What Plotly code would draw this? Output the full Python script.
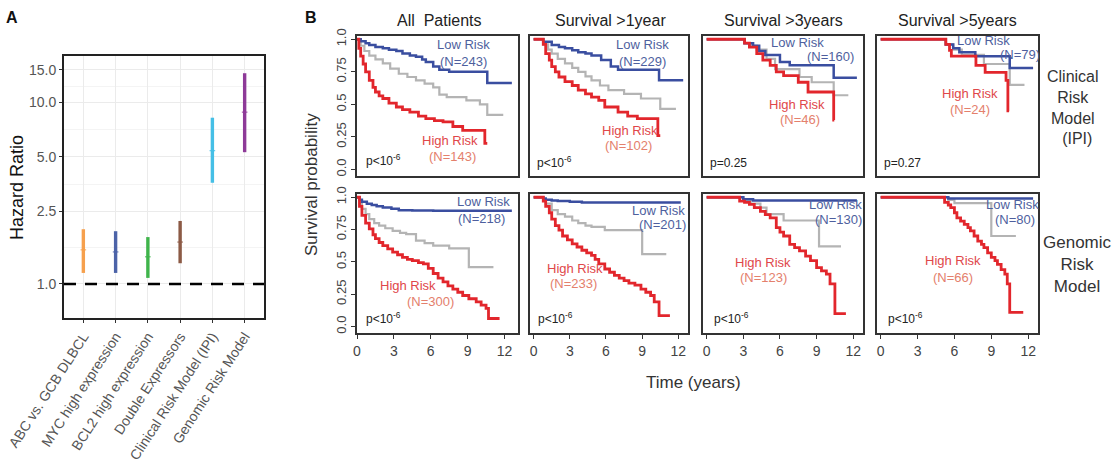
import plotly.graph_objects as go

W, H = 1119, 464

# ---------------- Panel A data ----------------
HR_LABELS = ["ABC vs. GCB DLBCL", "MYC high expression", "BCL2 high expression",
             "Double Expressors", "Clinical Risk Model (IPI)", "Genomic Risk Model"]
HR_EST = [1.54, 1.50, 1.41, 1.70, 5.4, 8.8]
HR_LOW = [1.15, 1.15, 1.08, 1.30, 3.6, 5.3]
HR_HIGH = [2.0, 1.95, 1.81, 2.22, 8.2, 14.4]
HR_COLORS = ["#F6A04D", "#4C63A8", "#3FB44B", "#8C5A45", "#45BFE6", "#8E3A98"]
HR_TICKS = [1.0, 2.5, 5.0, 10.0, 15.0]
HR_TICKTEXT = ["1.0", "2.5", "5.0", "10.0", "15.0"]
HR_MINOR = [1.58, 3.54, 7.07, 12.25]
HR_REF = 1.0

# ---------------- Panel B data ----------------
COL_TITLES = ["All  Patients", "Survival >1year", "Survival >3years", "Survival >5years"]
TIME_TICKS = [0, 3, 6, 9, 12]
SURV_TICKS = [0, 0.25, 0.5, 0.75, 1.0]
SURV_TICKTEXT = ["0.0", "0.25", "0.5", "0.75", "1.0"]

# Clinical risk model (IPI)
IPI_ALL_LOW_T = [0, 0.3, 0.7, 1.0, 1.5, 2.1, 2.6, 3.2, 3.7, 4.3, 4.8, 5.3, 5.6, 6.2, 6.7, 7.5, 10.6, 12.6]
IPI_ALL_LOW_S = [1.0, 0.985, 0.97, 0.955, 0.94, 0.93, 0.92, 0.91, 0.89, 0.875, 0.865, 0.845, 0.825, 0.79, 0.765, 0.75, 0.665, 0.665]
IPI_ALL_MID_T = [0, 0.3, 0.6, 1.0, 1.5, 2.1, 2.7, 3.4, 4.1, 4.8, 5.5, 6.2, 6.7, 7.3, 8.9, 10.0, 10.6, 11.9]
IPI_ALL_MID_S = [1.0, 0.95, 0.91, 0.875, 0.845, 0.815, 0.775, 0.735, 0.71, 0.685, 0.66, 0.63, 0.575, 0.555, 0.53, 0.5, 0.42, 0.42]
IPI_ALL_HIGH_T = [0, 0.15, 0.3, 0.5, 0.7, 1.0, 1.3, 1.5, 1.8, 2.1, 2.6, 3.2, 3.7, 4.3, 5.0, 5.6, 6.3, 7.0, 7.8, 8.6, 10.4, 10.6]
IPI_ALL_HIGH_S = [1.0, 0.93, 0.87, 0.81, 0.75, 0.685, 0.63, 0.595, 0.565, 0.545, 0.51, 0.48, 0.46, 0.44, 0.41, 0.39, 0.375, 0.365, 0.33, 0.30, 0.20, 0.20]

IPI_1Y_LOW_T = [0, 0.8, 1.5, 2.1, 2.6, 3.2, 3.7, 4.3, 4.8, 5.6, 6.4, 7.0, 10.4, 12.4]
IPI_1Y_LOW_S = [1.0, 0.98, 0.955, 0.94, 0.93, 0.915, 0.90, 0.89, 0.875, 0.84, 0.79, 0.765, 0.685, 0.685]
IPI_1Y_MID_T = [0, 0.8, 1.2, 1.5, 2.0, 2.6, 3.2, 3.7, 4.3, 4.8, 5.5, 6.2, 7.5, 8.9, 10.5, 11.8]
IPI_1Y_MID_S = [1.0, 0.96, 0.92, 0.89, 0.85, 0.815, 0.78, 0.75, 0.715, 0.685, 0.645, 0.61, 0.58, 0.545, 0.465, 0.465]
IPI_1Y_HIGH_T = [0, 0.8, 1.0, 1.3, 1.5, 1.8, 2.1, 2.6, 3.2, 3.7, 4.3, 4.8, 5.4, 5.9, 7.0, 7.8, 8.6, 10.3, 10.5]
IPI_1Y_HIGH_S = [1.0, 0.96, 0.89, 0.84, 0.79, 0.75, 0.71, 0.675, 0.645, 0.61, 0.58, 0.555, 0.53, 0.48, 0.44, 0.41, 0.39, 0.26, 0.26]

IPI_3Y_LOW_T = [0, 3.1, 3.8, 4.3, 4.8, 6.0, 6.8, 10.4, 12.3]
IPI_3Y_LOW_S = [1.0, 0.97, 0.95, 0.91, 0.88, 0.825, 0.80, 0.705, 0.705]
IPI_3Y_MID_T = [0, 3.1, 3.6, 4.1, 4.9, 5.6, 7.6, 8.6, 10.4, 11.6]
IPI_3Y_MID_S = [1.0, 0.97, 0.95, 0.92, 0.85, 0.77, 0.71, 0.67, 0.57, 0.57]
IPI_3Y_HIGH_T = [0, 3.1, 3.5, 4.1, 4.6, 5.2, 5.7, 6.3, 7.5, 8.3, 10.4, 10.45]
IPI_3Y_HIGH_S = [1.0, 0.97, 0.94, 0.89, 0.84, 0.80, 0.75, 0.72, 0.67, 0.595, 0.38, 0.38]

IPI_5Y_LOW_T = [0, 5.3, 5.9, 6.4, 7.7, 10.5, 12.4]
IPI_5Y_LOW_S = [1.0, 0.96, 0.93, 0.90, 0.87, 0.78, 0.78]
IPI_5Y_MID_T = [0, 5.3, 5.9, 6.6, 8.4, 10.5, 11.7]
IPI_5Y_MID_S = [1.0, 0.96, 0.92, 0.88, 0.81, 0.65, 0.65]
IPI_5Y_HIGH_T = [0, 5.3, 5.6, 5.75, 7.75, 8.5, 10.2, 10.35, 10.45]
IPI_5Y_HIGH_S = [1.0, 0.96, 0.915, 0.87, 0.80, 0.745, 0.685, 0.45, 0.45]

# Genomic risk model
GEN_ALL_LOW_T = [0, 0.2, 0.4, 0.8, 1.2, 1.6, 2.1, 2.8, 3.4, 4.5, 6.2, 12.6]
GEN_ALL_LOW_S = [1.0, 0.98, 0.965, 0.95, 0.94, 0.93, 0.92, 0.91, 0.90, 0.897, 0.895, 0.895]
GEN_ALL_MID_T = [0, 0.2, 0.4, 0.7, 1.0, 1.4, 1.8, 2.3, 2.9, 3.5, 4.0, 4.8, 5.5, 6.2, 7.5, 9.1, 11.1]
GEN_ALL_MID_S = [1.0, 0.95, 0.91, 0.87, 0.83, 0.80, 0.78, 0.76, 0.74, 0.725, 0.715, 0.665, 0.645, 0.625, 0.605, 0.46, 0.46]
GEN_ALL_HIGH_T = [0, 0.2, 0.4, 0.7, 1.0, 1.3, 1.5, 1.8, 2.1, 2.5, 2.9, 3.3, 3.7, 4.1, 4.5, 5.0, 5.4, 5.8, 6.2,
                  6.6, 7.0, 7.4, 7.8, 8.2, 8.6, 9.1, 9.7, 10.1, 10.5, 10.7, 11.6]
GEN_ALL_HIGH_S = [1.0, 0.93, 0.86, 0.80, 0.755, 0.71, 0.68, 0.65, 0.625, 0.60, 0.575, 0.555, 0.535, 0.52, 0.51, 0.495,
                  0.485, 0.45, 0.41, 0.375, 0.345, 0.315, 0.29, 0.265, 0.24, 0.215, 0.19, 0.165, 0.14, 0.062, 0.062]

GEN_1Y_LOW_T = [0, 0.8, 1.0, 1.5, 2.0, 3.0, 4.0, 12.2]
GEN_1Y_LOW_S = [1.0, 0.99, 0.98, 0.975, 0.97, 0.965, 0.96, 0.96]
GEN_1Y_MID_T = [0, 0.8, 1.0, 1.5, 2.0, 2.6, 3.2, 3.7, 4.3, 4.8, 5.9, 9.0, 11.0]
GEN_1Y_MID_S = [1.0, 0.985, 0.95, 0.90, 0.87, 0.85, 0.82, 0.80, 0.78, 0.77, 0.745, 0.56, 0.56]
GEN_1Y_HIGH_T = [0, 0.8, 1.0, 1.3, 1.5, 1.8, 2.1, 2.4, 2.8, 3.2, 3.6, 4.0, 4.4, 4.8, 5.1, 5.4, 5.9, 6.3, 6.7, 7.1,
                 7.5, 7.9, 8.4, 8.9, 9.3, 9.7, 10.0, 10.4, 11.3]
GEN_1Y_HIGH_S = [1.0, 0.97, 0.93, 0.88, 0.83, 0.78, 0.745, 0.70, 0.67, 0.64, 0.615, 0.59, 0.57, 0.55, 0.52, 0.485,
                 0.445, 0.42, 0.395, 0.375, 0.355, 0.335, 0.32, 0.29, 0.265, 0.24, 0.19, 0.085, 0.085]

GEN_3Y_LOW_T = [0, 3.0, 3.8, 12.3]
GEN_3Y_LOW_S = [1.0, 0.985, 0.975, 0.975]
GEN_3Y_MID_T = [0, 3.0, 3.6, 4.4, 4.9, 6.3, 9.2, 11.0]
GEN_3Y_MID_S = [1.0, 0.98, 0.95, 0.92, 0.87, 0.82, 0.62, 0.62]
GEN_3Y_HIGH_T = [0, 2.7, 3.1, 3.5, 3.9, 4.4, 4.8, 5.2, 5.7, 6.0, 6.3, 6.8, 7.2, 7.6, 8.1, 8.5, 9.0, 9.4, 9.8,
                 10.1, 10.5, 11.4]
GEN_3Y_HIGH_S = [1.0, 0.97, 0.96, 0.945, 0.92, 0.89, 0.865, 0.84, 0.765, 0.73, 0.70, 0.635, 0.61, 0.585, 0.545,
                 0.51, 0.455, 0.43, 0.405, 0.33, 0.10, 0.10]

GEN_5Y_LOW_T = [0, 5.5, 12.4]
GEN_5Y_LOW_S = [1.0, 0.99, 0.99]
GEN_5Y_MID_T = [0, 5.5, 6.0, 9.0, 11.0]
GEN_5Y_MID_S = [1.0, 0.98, 0.955, 0.70, 0.70]
GEN_5Y_HIGH_T = [0, 5.2, 5.5, 5.7, 6.0, 6.2, 6.5, 6.8, 7.1, 7.3, 7.6, 7.9, 8.2, 8.4, 8.7, 9.0, 9.3, 9.5, 9.8,
                 10.1, 10.3, 10.5, 11.6]
GEN_5Y_HIGH_S = [1.0, 0.96, 0.94, 0.92, 0.88, 0.84, 0.815, 0.79, 0.765, 0.74, 0.70, 0.66, 0.635, 0.61, 0.57,
                 0.535, 0.51, 0.48, 0.44, 0.405, 0.33, 0.11, 0.11]

IPI_N_LOW = ["243", "229", "160", "79"]
IPI_N_HIGH = ["143", "102", "46", "24"]
GEN_N_LOW = ["218", "201", "130", "80"]
GEN_N_HIGH = ["300", "233", "123", "66"]
IPI_P = ["p<10<sup>-6</sup>", "p<10<sup>-6</sup>", "p=0.25", "p=0.27"]
GEN_P = ["p<10<sup>-6</sup>", "p<10<sup>-6</sup>", "p<10<sup>-6</sup>", "p<10<sup>-6</sup>"]

PANELS = [
    [(IPI_ALL_LOW_T, IPI_ALL_LOW_S, IPI_ALL_MID_T, IPI_ALL_MID_S, IPI_ALL_HIGH_T, IPI_ALL_HIGH_S),
     (IPI_1Y_LOW_T, IPI_1Y_LOW_S, IPI_1Y_MID_T, IPI_1Y_MID_S, IPI_1Y_HIGH_T, IPI_1Y_HIGH_S),
     (IPI_3Y_LOW_T, IPI_3Y_LOW_S, IPI_3Y_MID_T, IPI_3Y_MID_S, IPI_3Y_HIGH_T, IPI_3Y_HIGH_S),
     (IPI_5Y_LOW_T, IPI_5Y_LOW_S, IPI_5Y_MID_T, IPI_5Y_MID_S, IPI_5Y_HIGH_T, IPI_5Y_HIGH_S)],
    [(GEN_ALL_LOW_T, GEN_ALL_LOW_S, GEN_ALL_MID_T, GEN_ALL_MID_S, GEN_ALL_HIGH_T, GEN_ALL_HIGH_S),
     (GEN_1Y_LOW_T, GEN_1Y_LOW_S, GEN_1Y_MID_T, GEN_1Y_MID_S, GEN_1Y_HIGH_T, GEN_1Y_HIGH_S),
     (GEN_3Y_LOW_T, GEN_3Y_LOW_S, GEN_3Y_MID_T, GEN_3Y_MID_S, GEN_3Y_HIGH_T, GEN_3Y_HIGH_S),
     (GEN_5Y_LOW_T, GEN_5Y_LOW_S, GEN_5Y_MID_T, GEN_5Y_MID_S, GEN_5Y_HIGH_T, GEN_5Y_HIGH_S)],
]

# ---------------- styling / layout constants ----------------
FONT = "Liberation Sans, Arial, sans-serif"
BLUE = "#3A4EA0"
GRAY = "#B4B4B4"
RED = "#E2262C"
BLUE_TXT = "#4E5F9E"
RED_TXT = "#E0474A"
RED_N_TXT = "#E4806C"

COL_PX = [(357, 518), (530, 688), (703, 863), (877, 1038)]
ROW_PX = [(36, 176), (194, 333)]
COL_XRANGE = [[0, 13.1], [-0.3, 12.8], [-0.3, 12.8], [-0.3, 12.8]]


def xdom(a, b):
    return [a / W, b / W]


def ydom(top, bottom):
    return [1 - bottom / H, 1 - top / H]


fig = go.Figure()
layout = dict(width=W, height=H, margin=dict(l=0, r=0, t=0, b=0, pad=0, autoexpand=False), autosize=False,
              paper_bgcolor="white", plot_bgcolor="white", showlegend=False,
              font=dict(family=FONT, color="#333"))

# ---------------- Panel A ----------------
xpos = list(range(len(HR_LABELS)))
for i in xpos:
    fig.add_trace(go.Scatter(
        x=[i], y=[HR_EST[i]], mode="markers", xaxis="x", yaxis="y",
        marker=dict(symbol="line-ew", size=4, line=dict(width=1, color=HR_COLORS[i]), color=HR_COLORS[i]),
        error_y=dict(type="data", symmetric=False, array=[HR_HIGH[i] - HR_EST[i]],
                     arrayminus=[HR_EST[i] - HR_LOW[i]], thickness=3.4, width=0, color=HR_COLORS[i]),
        hoverinfo="skip"))
fig.add_trace(go.Scatter(x=[-0.6, len(HR_LABELS) - 0.4], y=[HR_REF, HR_REF], mode="lines",
                         xaxis="x", yaxis="y", line=dict(color="black", width=2.6, dash="12px,9px"),
                         hoverinfo="skip"))

layout["xaxis"] = dict(domain=xdom(64, 264), anchor="y", range=[-0.6, len(HR_LABELS) - 0.4],
                       automargin=False,
                       tickmode="array", tickvals=xpos, ticktext=HR_LABELS, tickangle=-57,
                       tickfont=dict(size=14, color="#555", family=FONT),
                       showline=True, mirror=True, linecolor="#222", linewidth=1.8,
                       showgrid=True, gridcolor="#EBEBEB", gridwidth=1,
                       ticks="outside", ticklen=3, tickcolor="#333", zeroline=False)
layout["yaxis"] = dict(domain=ydom(56, 318), anchor="x", type="log", automargin=False,
                       range=[-0.187, 1.253], tickmode="array", tickvals=HR_TICKS,
                       ticktext=HR_TICKTEXT, tickfont=dict(size=14, color="#555", family=FONT),
                       showline=True, mirror=True, linecolor="#222", linewidth=1.8,
                       showgrid=True, gridcolor="#EBEBEB", gridwidth=1,
                       minor=dict(tickmode="array", tickvals=HR_MINOR, showgrid=True,
                                  gridcolor="#F4F4F4", gridwidth=0.8, ticks=""),
                       ticks="outside", ticklen=3, tickcolor="#333", zeroline=False)

# ---------------- Panel B ----------------
k = 2
for r in range(2):
    for c in range(4):
        lt, ls, mt, ms, ht, hs = PANELS[r][c]
        xa, ya = "x%d" % k, "y%d" % k
        for tt, ss, col, lw in ((mt, ms, GRAY, 2.2), (lt, ls, BLUE, 2.5), (ht, hs, RED, 2.8)):
            fig.add_trace(go.Scatter(x=tt, y=ss, mode="lines", line=dict(color=col, width=lw, shape="hv"),
                                     xaxis=xa, yaxis=ya, hoverinfo="skip"))
        bottom = (r == 1)
        left = (c == 0)
        layout["xaxis%d" % k] = dict(
            domain=xdom(*COL_PX[c]), anchor=ya, range=COL_XRANGE[c], automargin=False,
            showline=True, mirror=True, linecolor="#333", linewidth=1.5,
            showgrid=False, zeroline=False,
            tickmode="array", tickvals=TIME_TICKS, showticklabels=bottom,
            ticks="outside" if bottom else "", ticklen=4, tickcolor="#333",
            tickfont=dict(size=14, color="#444", family=FONT))
        layout["yaxis%d" % k] = dict(
            domain=ydom(*ROW_PX[r]), anchor=xa, range=[-0.05, 1.025], automargin=False,
            showline=True, mirror=True, linecolor="#333", linewidth=1.5,
            showgrid=False, zeroline=False,
            tickmode="array", tickvals=SURV_TICKS, ticktext=SURV_TICKTEXT, showticklabels=left,
            ticks="outside" if left else "", ticklen=4, tickcolor="#333", tickangle=-90,
            tickfont=dict(size=13, color="#444", family=FONT))
        k += 1

annotations = []


def ann(px, py, text, size, color, family=FONT, xanchor="center", bold=False, angle=0):
    if bold:
        text = "<b>%s</b>" % text
    annotations.append(dict(x=px / W, y=1 - py / H, xref="paper", yref="paper", text=text,
                            showarrow=False, xanchor=xanchor, yanchor="middle", textangle=angle,
                            font=dict(size=size, color=color, family=family)))


ann(12, 17, "A", 16, "#111", bold=True)
ann(311, 17, "B", 16, "#111", bold=True)
ann(17, 188, "Hazard Ratio", 18, "#111", angle=-90)

TITLE_X = [439, 610, 783, 957]
for c in range(4):
    ann(TITLE_X[c], 20, COL_TITLES[c], 16, "#222")

# label positions (pixels) per panel: low-risk, N, high-risk, N, p
LOW_POS = [[(463, 45), (642, 45), (797, 42), (983, 40)], [(483, 201), (658, 210), (835, 204), (1012, 204)]]
LOWN_POS = [[(463, 61), (642, 61), (830, 57), (1020, 55)], [(482, 218), (662, 224), (838, 219), (1015, 219)]]
HIGH_POS = [[(450, 140), (630, 130), (797, 105), (970, 93)], [(408, 285), (575, 268), (763, 262), (953, 260)]]
HIGHN_POS = [[(452, 156), (628, 145), (800, 119), (970, 110)], [(430, 301), (573, 283), (763, 277), (953, 277)]]
P_POS = [[(364, 160), (535, 162), (708, 163), (882, 163)], [(364, 318), (536, 318), (712, 318), (886, 318)]]
NL = [IPI_N_LOW, GEN_N_LOW]
NH = [IPI_N_HIGH, GEN_N_HIGH]
PV = [IPI_P, GEN_P]
for r in range(2):
    for c in range(4):
        ann(*LOW_POS[r][c], "Low Risk", 13, BLUE_TXT)
        ann(*LOWN_POS[r][c], "(N=%s)" % NL[r][c], 13, BLUE_TXT)
        ann(*HIGH_POS[r][c], "High Risk", 13, RED_TXT)
        ann(*HIGHN_POS[r][c], "(N=%s)" % NH[r][c], 13, RED_N_TXT)
        ann(*P_POS[r][c], PV[r][c], 12, "#222", xanchor="left")

ann(1073, 107, "Clinical<br>Risk<br>Model<br>  (IPI)", 16, "#333")
ann(1077, 264, "Genomic<br>Risk<br>Model", 17, "#333")
ann(693, 382, "Time (years)", 17, "#333")
ann(311, 185, "Survival probability", 17, "#333", angle=-90)

layout["annotations"] = annotations
fig.update_layout(**layout)
fig.write_html("out.html")
